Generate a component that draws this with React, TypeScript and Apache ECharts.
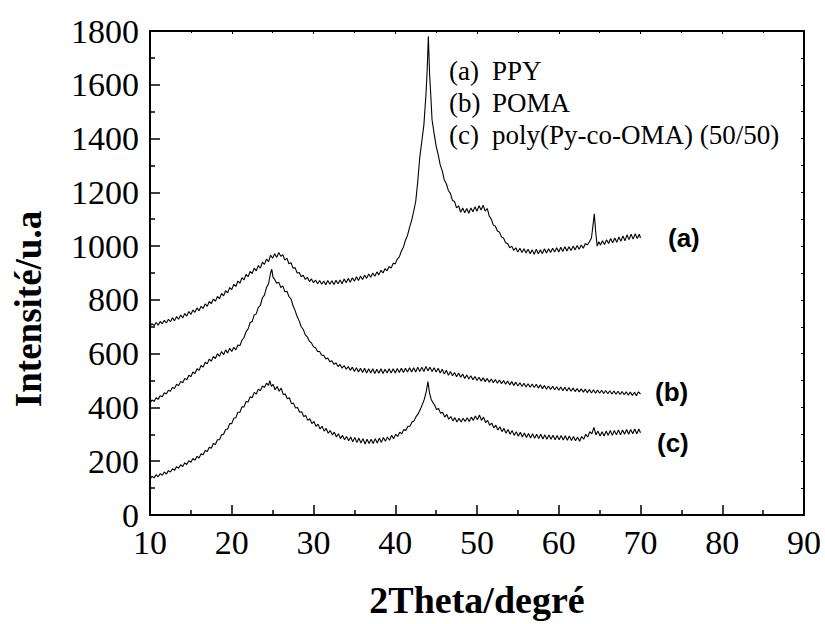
import React, { useEffect, useRef } from "react";
import * as echarts from "echarts";

// 2Theta (deg) / intensity (a.u.) pairs
const ppy: [number, number][] = [
  [10, 700], [10.25, 712], [10.5, 704], [10.75, 716], [11, 706], [11.25, 720], [11.5, 711], [11.75, 724],
  [12, 714], [12.25, 728], [12.5, 719], [12.75, 734], [13, 722], [13.25, 738], [13.5, 728], [13.75, 744],
  [14, 733], [14.25, 749], [14.5, 740], [14.75, 757], [15, 746], [15.25, 762], [15.5, 754], [15.75, 770],
  [16, 760], [16.25, 776], [16.5, 768], [16.75, 785], [17, 776], [17.25, 794], [17.5, 786], [17.75, 803],
  [18, 795], [18.25, 813], [18.5, 804], [18.75, 824], [19, 815], [19.25, 834], [19.5, 826], [19.75, 846],
  [20, 838], [20.25, 858], [20.5, 850], [20.75, 870], [21, 862], [21.25, 883], [21.5, 874], [21.75, 895],
  [22, 886], [22.25, 906], [22.5, 898], [22.75, 918], [23, 908], [23.25, 928], [23.5, 918], [23.75, 940],
  [24, 932], [24.25, 952], [24.5, 942], [24.75, 966], [25, 955], [25.25, 972], [25.5, 958], [25.75, 976],
  [26, 962], [26.25, 968], [26.5, 948], [26.75, 955], [27, 934], [27.25, 938], [27.5, 918], [27.75, 920],
  [28, 900], [28.25, 902], [28.5, 886], [28.75, 892], [29, 876], [29.25, 884], [29.5, 868], [29.75, 878],
  [30, 864], [30.25, 874], [30.5, 860], [30.75, 872], [31, 858], [31.25, 870], [31.5, 856], [31.75, 872],
  [32, 858], [32.25, 871], [32.5, 857], [32.75, 873], [33, 860], [33.25, 874], [33.5, 860], [33.75, 878],
  [34, 864], [34.25, 880], [34.5, 866], [34.75, 882], [35, 869], [35.25, 886], [35.5, 872], [35.75, 889],
  [36, 876], [36.25, 892], [36.5, 880], [36.75, 896], [37, 884], [37.25, 900], [37.5, 888], [37.75, 904],
  [38, 893], [38.25, 910], [38.5, 900], [38.75, 916], [39, 908], [39.25, 924], [39.5, 918], [39.75, 936],
  [40, 934], [40.25, 952], [40.5, 960], [40.75, 982], [41, 996], [41.25, 1022], [41.5, 1040], [41.75, 1070],
  [42, 1095], [42.25, 1128], [42.5, 1165], [42.75, 1240], [43, 1330], [43.25, 1390], [43.5, 1450],
  [43.75, 1560], [43.9, 1650], [44.05, 1780], [44.2, 1640], [44.35, 1560], [44.5, 1470], [44.75, 1420],
  [45, 1372], [45.25, 1340], [45.5, 1302], [45.75, 1280], [46, 1246], [46.25, 1232], [46.5, 1206],
  [46.75, 1196], [47, 1170], [47.25, 1166], [47.5, 1142], [47.75, 1150], [48, 1126], [48.25, 1142],
  [48.5, 1124], [48.75, 1140], [49, 1122], [49.25, 1142], [49.5, 1128], [49.75, 1146], [50, 1130],
  [50.25, 1150], [50.5, 1134], [50.75, 1152], [51, 1130], [51.25, 1140], [51.5, 1112], [51.75, 1100],
  [52, 1078], [52.25, 1074], [52.5, 1056], [52.75, 1052], [53, 1034], [53.25, 1030], [53.5, 1012],
  [53.75, 1010], [54, 994], [54.25, 1000], [54.5, 984], [54.75, 994], [55, 978], [55.25, 992], [55.5, 976],
  [55.75, 990], [56, 974], [56.25, 988], [56.5, 972], [56.75, 986], [57, 970], [57.25, 988], [57.5, 972],
  [57.75, 986], [58, 972], [58.25, 990], [58.5, 974], [58.75, 990], [59, 976], [59.25, 992], [59.5, 978],
  [59.75, 994], [60, 978], [60.25, 996], [60.5, 980], [60.75, 998], [61, 982], [61.25, 998], [61.5, 984],
  [61.75, 1000], [62, 986], [62.25, 1002], [62.5, 988], [62.75, 1004], [63, 992], [63.25, 1010],
  [63.5, 1004], [63.75, 1016], [64, 1030], [64.2, 1080], [64.35, 1120], [64.5, 1060], [64.7, 1000],
  [64.9, 1016], [65.1, 1004], [65.35, 1020], [65.6, 1006], [65.85, 1024], [66.1, 1010], [66.35, 1028],
  [66.6, 1012], [66.85, 1030], [67.1, 1014], [67.35, 1034], [67.6, 1018], [67.85, 1038], [68.1, 1020],
  [68.35, 1042], [68.6, 1024], [68.85, 1044], [69.1, 1026], [69.35, 1046], [69.6, 1028], [69.85, 1044],
  [70, 1030],
];

const poma: [number, number][] = [
  [10, 416], [10.25, 428], [10.5, 422], [10.75, 436], [11, 430], [11.25, 444], [11.5, 440], [11.75, 455],
  [12, 450], [12.25, 464], [12.5, 460], [12.75, 475], [13, 470], [13.25, 486], [13.5, 481], [13.75, 497],
  [14, 492], [14.25, 508], [14.5, 503], [14.75, 520], [15, 514], [15.25, 532], [15.5, 526], [15.75, 544],
  [16, 538], [16.25, 556], [16.5, 550], [16.75, 568], [17, 562], [17.25, 580], [17.5, 572], [17.75, 590],
  [18, 582], [18.25, 600], [18.5, 590], [18.75, 608], [19, 596], [19.25, 614], [19.5, 602], [19.75, 620],
  [20, 608], [20.25, 624], [20.5, 614], [20.75, 632], [21, 630], [21.25, 650], [21.5, 660], [21.75, 682],
  [22, 692], [22.25, 716], [22.5, 720], [22.75, 744], [23, 748], [23.25, 772], [23.5, 780], [23.75, 808],
  [24, 818], [24.25, 846], [24.5, 860], [24.75, 900], [24.9, 914], [25.05, 884], [25.25, 876], [25.5, 862],
  [25.75, 866], [26, 846], [26.25, 852], [26.5, 830], [26.75, 832], [27, 812], [27.25, 804], [27.5, 778],
  [27.75, 760], [28, 738], [28.25, 722], [28.5, 700], [28.75, 690], [29, 670], [29.25, 662], [29.5, 646],
  [29.75, 640], [30, 626], [30.25, 622], [30.5, 608], [30.75, 608], [31, 594], [31.25, 594], [31.5, 580],
  [31.75, 584], [32, 570], [32.25, 574], [32.5, 560], [32.75, 566], [33, 552], [33.25, 560], [33.5, 546],
  [33.75, 556], [34, 542], [34.25, 552], [34.5, 538], [34.75, 550], [35, 534], [35.25, 548], [35.5, 532],
  [35.75, 546], [36, 530], [36.25, 546], [36.5, 528], [36.75, 544], [37, 528], [37.25, 544], [37.5, 526],
  [37.75, 542], [38, 527], [38.25, 544], [38.5, 526], [38.75, 542], [39, 528], [39.25, 544], [39.5, 528],
  [39.75, 544], [40, 528], [40.25, 545], [40.5, 530], [40.75, 546], [41, 530], [41.25, 546], [41.5, 532],
  [41.75, 548], [42, 532], [42.25, 548], [42.5, 532], [42.75, 550], [43, 534], [43.25, 550], [43.5, 534],
  [43.75, 552], [44, 536], [44.25, 550], [44.5, 534], [44.75, 548], [45, 532], [45.25, 546], [45.5, 528],
  [45.75, 542], [46, 524], [46.25, 538], [46.5, 520], [46.75, 534], [47, 518], [47.25, 530], [47.5, 514],
  [47.75, 528], [48, 512], [48.25, 524], [48.5, 508], [48.75, 521], [49, 506], [49.25, 518], [49.5, 503],
  [49.75, 515], [50, 500], [50.25, 512], [50.5, 498], [50.75, 510], [51, 496], [51.25, 508], [51.5, 494],
  [51.75, 506], [52, 492], [52.25, 504], [52.5, 490], [52.75, 502], [53, 488], [53.25, 500], [53.5, 486],
  [53.75, 498], [54, 484], [54.25, 496], [54.5, 482], [54.75, 494], [55, 480], [55.25, 492], [55.5, 478],
  [55.75, 490], [56, 476], [56.25, 488], [56.5, 475], [56.75, 487], [57, 474], [57.25, 486], [57.5, 472],
  [57.75, 484], [58, 470], [58.25, 482], [58.5, 468], [58.75, 480], [59, 467], [59.25, 479], [59.5, 466],
  [59.75, 477], [60, 464], [60.25, 476], [60.5, 462], [60.75, 475], [61, 461], [61.25, 474], [61.5, 460],
  [61.75, 472], [62, 459], [62.25, 470], [62.5, 458], [62.75, 469], [63, 457], [63.25, 468], [63.5, 455],
  [63.75, 467], [64, 454], [64.25, 466], [64.5, 453], [64.75, 465], [65, 453], [65.25, 464], [65.5, 452],
  [65.75, 463], [66, 451], [66.25, 462], [66.5, 450], [66.75, 461], [67, 449], [67.25, 460], [67.5, 448],
  [67.75, 459], [68, 447], [68.25, 458], [68.5, 446], [68.75, 457], [69, 445], [69.25, 456], [69.5, 444],
  [69.75, 458], [70, 450],
];

const copolymer: [number, number][] = [
  [10, 132], [10.25, 144], [10.5, 138], [10.75, 150], [11, 142], [11.25, 154], [11.5, 148], [11.75, 160],
  [12, 152], [12.25, 165], [12.5, 160], [12.75, 172], [13, 166], [13.25, 180], [13.5, 174], [13.75, 187],
  [14, 180], [14.25, 194], [14.5, 188], [14.75, 202], [15, 196], [15.25, 210], [15.5, 204], [15.75, 218],
  [16, 212], [16.25, 228], [16.5, 224], [16.75, 240], [17, 236], [17.25, 252], [17.5, 248], [17.75, 266],
  [18, 262], [18.25, 280], [18.5, 280], [18.75, 298], [19, 300], [19.25, 318], [19.5, 320], [19.75, 340],
  [20, 340], [20.25, 360], [20.5, 362], [20.75, 382], [21, 382], [21.25, 402], [21.5, 402], [21.75, 422],
  [22, 420], [22.25, 440], [22.5, 436], [22.75, 456], [23, 450], [23.25, 468], [23.5, 462], [23.75, 480],
  [24, 474], [24.25, 490], [24.5, 482], [24.65, 500], [24.85, 478], [25.05, 486], [25.3, 466], [25.55, 478],
  [25.8, 460], [26.05, 472], [26.3, 448], [26.55, 450], [26.8, 432], [27.05, 436], [27.3, 414], [27.55, 416],
  [27.8, 398], [28.05, 400], [28.3, 382], [28.55, 384], [28.8, 366], [29.05, 370], [29.3, 352], [29.55, 358],
  [29.8, 340], [30.05, 348], [30.3, 330], [30.55, 338], [30.8, 320], [31.05, 330], [31.3, 312], [31.55, 322],
  [31.8, 304], [32.05, 314], [32.3, 298], [32.55, 308], [32.8, 290], [33.05, 302], [33.3, 284], [33.55, 296],
  [33.8, 280], [34.05, 292], [34.3, 276], [34.55, 290], [34.8, 272], [35.05, 288], [35.3, 270], [35.55, 286],
  [35.8, 268], [36.05, 284], [36.3, 264], [36.55, 282], [36.8, 266], [37.05, 282], [37.3, 266], [37.55, 284],
  [37.8, 268], [38.05, 286], [38.3, 270], [38.55, 288], [38.8, 274], [39.05, 290], [39.3, 278], [39.55, 296],
  [39.8, 284], [40.05, 300], [40.3, 292], [40.55, 308], [40.8, 302], [41.05, 318], [41.3, 314], [41.55, 330],
  [41.8, 330], [42.05, 346], [42.3, 350], [42.55, 366], [42.8, 376], [43.05, 392], [43.3, 410], [43.55, 430],
  [43.8, 460], [44.0, 496], [44.2, 452], [44.4, 430], [44.6, 418], [44.8, 410], [45.05, 392], [45.3, 396],
  [45.55, 378], [45.8, 382], [46.05, 364], [46.3, 374], [46.55, 356], [46.8, 366], [47.05, 350], [47.3, 362],
  [47.55, 346], [47.8, 360], [48.05, 346], [48.3, 360], [48.55, 348], [48.8, 362], [49.05, 348], [49.3, 364],
  [49.55, 352], [49.8, 368], [50.05, 354], [50.3, 372], [50.55, 352], [50.8, 364], [51.05, 344], [51.3, 352],
  [51.55, 334], [51.8, 342], [52.05, 324], [52.3, 334], [52.55, 316], [52.8, 328], [53.05, 310], [53.3, 322],
  [53.55, 304], [53.8, 318], [54.05, 300], [54.3, 314], [54.55, 296], [54.8, 310], [55.05, 293], [55.3, 308],
  [55.55, 290], [55.8, 305], [56.05, 288], [56.3, 303], [56.55, 286], [56.8, 302], [57.05, 285], [57.3, 300],
  [57.55, 284], [57.8, 300], [58.05, 283], [58.3, 298], [58.55, 282], [58.8, 298], [59.05, 282], [59.3, 297],
  [59.55, 280], [59.8, 296], [60.05, 280], [60.3, 296], [60.55, 279], [60.8, 295], [61.05, 278], [61.3, 294],
  [61.55, 277], [61.8, 292], [62.05, 276], [62.3, 290], [62.55, 274], [62.8, 292], [63.05, 282], [63.3, 300],
  [63.55, 290], [63.8, 310], [64.05, 302], [64.3, 326], [64.55, 298], [64.8, 312], [65.05, 294], [65.3, 310],
  [65.55, 294], [65.8, 312], [66.05, 296], [66.3, 314], [66.55, 296], [66.8, 314], [67.05, 298], [67.3, 316],
  [67.55, 298], [67.8, 316], [68.05, 300], [68.3, 318], [68.55, 300], [68.8, 318], [69.05, 302], [69.3, 320],
  [69.55, 302], [69.8, 320], [70, 306],
];

const legendKeys = ["(a)", "(b)", "(c)"];
const legendNames = ["PPY", "POMA", "poly(Py-co-OMA) (50/50)"];
const curveTags = ["(a)", "(b)", "(c)"];

const SERIF = "'Liberation Serif', 'Times New Roman', serif";
const SANS = "'Liberation Sans', Arial, sans-serif";

export default function App() {
  const ref = useRef<HTMLDivElement>(null);

  useEffect(() => {
    if (!ref.current) return;
    const chart = echarts.init(ref.current, null, { renderer: "svg" });

    const axisLine = { show: true, onZero: false, lineStyle: { color: "#000", width: 2 } };
    const tickStyle = { color: "#000", width: 1.5 };

    const graphics: any[] = [];
    const legendY = [71, 103, 135];
    legendKeys.forEach((k, i) => {
      graphics.push({
        type: "text",
        x: 449,
        y: legendY[i],
        style: { text: k, font: `27px ${SERIF}`, fill: "#000", textVerticalAlign: "middle" },
      });
      graphics.push({
        type: "text",
        x: 492,
        y: legendY[i],
        style: { text: legendNames[i], font: `27px ${SERIF}`, fill: "#000", textVerticalAlign: "middle" },
      });
    });
    const tagPos = [
      [668, 238],
      [655, 392],
      [657, 443],
    ];
    curveTags.forEach((t, i) => {
      graphics.push({
        type: "text",
        x: tagPos[i][0],
        y: tagPos[i][1],
        style: { text: t, font: `bold 26px ${SANS}`, fill: "#000", textVerticalAlign: "middle" },
      });
    });
    graphics.push({
      type: "text",
      x: 28,
      y: 309,
      rotation: Math.PI / 2,
      style: {
        text: "Intensité/u.a",
        font: `bold 37px ${SERIF}`,
        fill: "#000",
        textAlign: "center",
        textVerticalAlign: "middle",
      },
    });

    const mkSeries = (data: [number, number][]) => ({
      type: "line",
      data,
      showSymbol: false,
      symbol: "none",
      xAxisIndex: 0,
      yAxisIndex: 0,
      lineStyle: { color: "#000", width: 1.1 },
      itemStyle: { color: "#000" },
    });

    chart.setOption({
      animation: false,
      backgroundColor: "#fff",
      grid: { left: 150, right: 21, top: 31, bottom: 107, containLabel: false },
      xAxis: [
        {
          type: "value",
          min: 10,
          max: 90,
          interval: 10,
          position: "bottom",
          axisLine,
          axisTick: { show: true, inside: true, length: 10, lineStyle: tickStyle },
          minorTick: { show: true, splitNumber: 2, length: 5, lineStyle: tickStyle },
          splitLine: { show: false },
          axisLabel: {
            show: true,
            margin: 15,
            color: "#000",
            fontFamily: SERIF,
            fontSize: 34,
            lineHeight: 24,
            formatter: (v: number) => String(v),
          },
          name: "2Theta/degré",
          nameLocation: "middle",
          nameGap: 66,
          nameTextStyle: { color: "#000", fontFamily: SERIF, fontSize: 38, fontWeight: "bold" },
        },
        {
          type: "value",
          min: 10,
          max: 90,
          interval: 10,
          position: "top",
          axisLine,
          axisTick: { show: true, inside: true, length: 3, lineStyle: { color: "#000", width: 1 } },
          minorTick: { show: true, splitNumber: 2, length: 2, lineStyle: { color: "#000", width: 1 } },
          splitLine: { show: false },
          axisLabel: { show: false },
        },
      ],
      yAxis: [
        {
          type: "value",
          min: 0,
          max: 1800,
          interval: 200,
          position: "left",
          axisLine,
          axisTick: { show: true, inside: true, length: 10, lineStyle: tickStyle },
          minorTick: { show: true, splitNumber: 2, length: 5, lineStyle: tickStyle },
          splitLine: { show: false },
          axisLabel: {
            show: true,
            margin: 11,
            color: "#000",
            fontFamily: SERIF,
            fontSize: 34,
            lineHeight: 24,
            formatter: (v: number) => String(v),
          },
        },
        {
          type: "value",
          min: 0,
          max: 1800,
          interval: 200,
          position: "right",
          axisLine,
          axisTick: { show: true, inside: true, length: 3, lineStyle: { color: "#000", width: 1 } },
          minorTick: { show: true, splitNumber: 2, length: 3, lineStyle: { color: "#000", width: 1 } },
          splitLine: { show: false },
          axisLabel: { show: false },
        },
      ],
      series: [mkSeries(ppy), mkSeries(poma), mkSeries(copolymer)],
      graphic: graphics,
    });

    return () => chart.dispose();
  }, []);

  return (
    <div
      ref={ref}
      style={{ position: "fixed", left: 0, top: 0, width: 825, height: 624, overflow: "visible" }}
    />
  );
}
